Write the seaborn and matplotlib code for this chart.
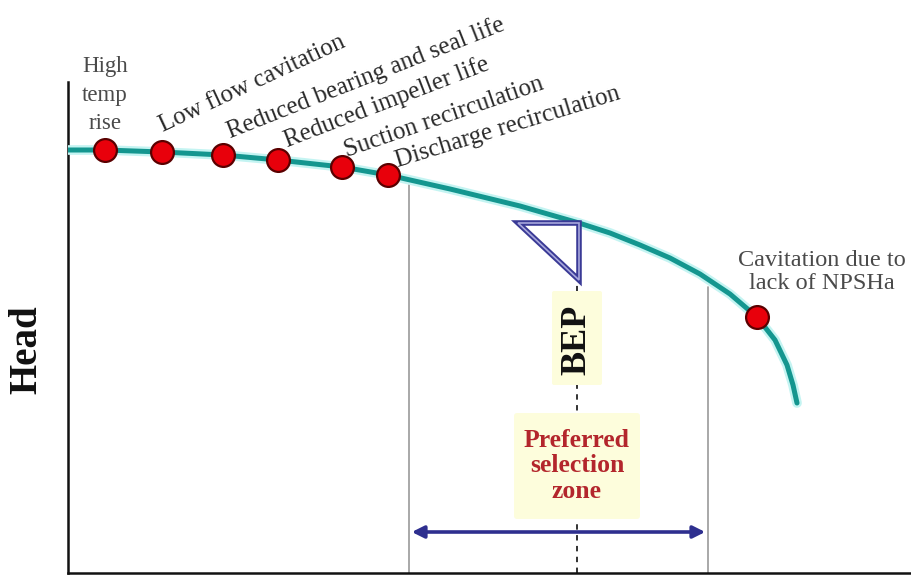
import matplotlib
matplotlib.use("Agg")
import matplotlib.pyplot as plt
import seaborn as sns
import pandas as pd
from matplotlib.patches import Polygon, FancyBboxPatch

# pump head curve (flow / head in drawing units)
flow = [0, 37, 94, 155, 210, 274, 320, 382, 452, 511, 542, 572, 602, 632, 662, 689, 707, 719, 725, 729]
head = [423, 423, 421, 418, 413, 406, 398, 384, 367, 350, 340, 328, 315, 299, 279, 256, 233, 208, 188, 170]

# problem points on the curve
dot_flow = [37, 94, 155, 210, 274, 320, 689]
dot_head = [423, 421, 418, 413, 406, 398, 256]

rot_labels = ["Low flow cavitation", "Reduced bearing and seal life", "Reduced impeller life",
              "Suction recirculation", "Discharge recirculation"]
rot_x = [95, 162, 219, 279, 330]
rot_y = [441, 435, 426, 416, 406]
rot_angle = [25, 21.5, 21, 19, 17]

zone_left, zone_right, bep_flow = 341, 640, 509

sns.set_theme(style="white")
plt.rcParams['font.family'] = ['Liberation Serif', 'DejaVu Serif']

fig = plt.figure(figsize=(9.12, 5.77), dpi=100)
ax = fig.add_axes([68 / 912, 4 / 577, 844 / 912, 491 / 577])
ax.set_xlim(0, 844)
ax.set_ylim(0, 491)

df = pd.DataFrame({'flow': flow, 'head': head})
sns.lineplot(data=df, x='flow', y='head', sort=False, color='#c4f4f2', lw=7, ax=ax, zorder=3)
sns.lineplot(data=df, x='flow', y='head', sort=False, color='#14968f', lw=3.6, ax=ax, zorder=4)
sns.scatterplot(x=dot_flow, y=dot_head, s=270, color='#e8000b', edgecolor='#5a0000',
                linewidth=1.6, ax=ax, zorder=5)

# zone boundaries
ax.plot([zone_left, zone_left], [0, 388], color='#9a9a9a', lw=1.2, zorder=2)
ax.plot([zone_right, zone_right], [0, 286], color='#9a9a9a', lw=1.2, zorder=2)
ax.plot([bep_flow, bep_flow], [0, 293], color='#222222', lw=1.3, ls=(0, (3, 3)), zorder=2)

# BEP triangle
tri = [(450, 350), (511, 350), (511, 293)]
ax.add_patch(Polygon(tri, closed=True, facecolor='white', edgecolor='#3a3a96', lw=4, zorder=6))
ax.add_patch(Polygon(tri, closed=True, fill=False, edgecolor='#a8a8dc', lw=1.2, zorder=7))

# yellow boxes
ax.add_patch(FancyBboxPatch((486, 190), 46, 90, boxstyle='round,pad=2', facecolor='#fdfddc',
                            edgecolor='none', zorder=3))
ax.add_patch(FancyBboxPatch((449, 57), 120, 100, boxstyle='round,pad=3', facecolor='#fdfddc',
                            edgecolor='none', zorder=3))
ax.text(bep_flow, 233, 'BEP', rotation=90, ha='center', va='center', fontsize=26,
        fontweight='bold', color='#111111', zorder=8)
ax.text(bep_flow, 107, 'Preferred\nselection\nzone', ha='center', va='center', fontsize=18.5,
        fontweight='bold', color='#b3262c', linespacing=1.12, zorder=8)

# preferred zone arrow
ax.annotate('', xy=(zone_left, 41), xytext=(zone_right, 41),
            arrowprops=dict(arrowstyle='<|-|>', color='#2e2f8f', lw=2.6, mutation_scale=18),
            zorder=8)

# labels
ax.text(37, 478, 'High\ntemp\nrise', ha='center', va='center', fontsize=16.5, color='#4a4a4a',
        linespacing=1.45, clip_on=False)
for lab, x, y, a in zip(rot_labels, rot_x, rot_y, rot_angle):
    ax.text(x, y, lab, rotation=a, rotation_mode='anchor', ha='left', va='baseline',
            fontsize=18, color='#2a2a2a', clip_on=False)
ax.text(754, 301, 'Cavitation due to\nlack of NPSHa', ha='center', va='center', fontsize=17.5,
        color='#4a4a4a', linespacing=1.1)

fig.text(27 / 912, (577 - 350) / 577, 'Head', rotation=90, ha='center', va='center',
         fontsize=28, fontweight='bold', color='#111111')

sns.despine(ax=ax)
for s in ['left', 'bottom']:
    ax.spines[s].set_color('#111111')
    ax.spines[s].set_linewidth(1.8)
ax.set_xticks([])
ax.set_yticks([])
ax.set_xlabel('')
ax.set_ylabel('')

fig.savefig('out.png', dpi=100)
